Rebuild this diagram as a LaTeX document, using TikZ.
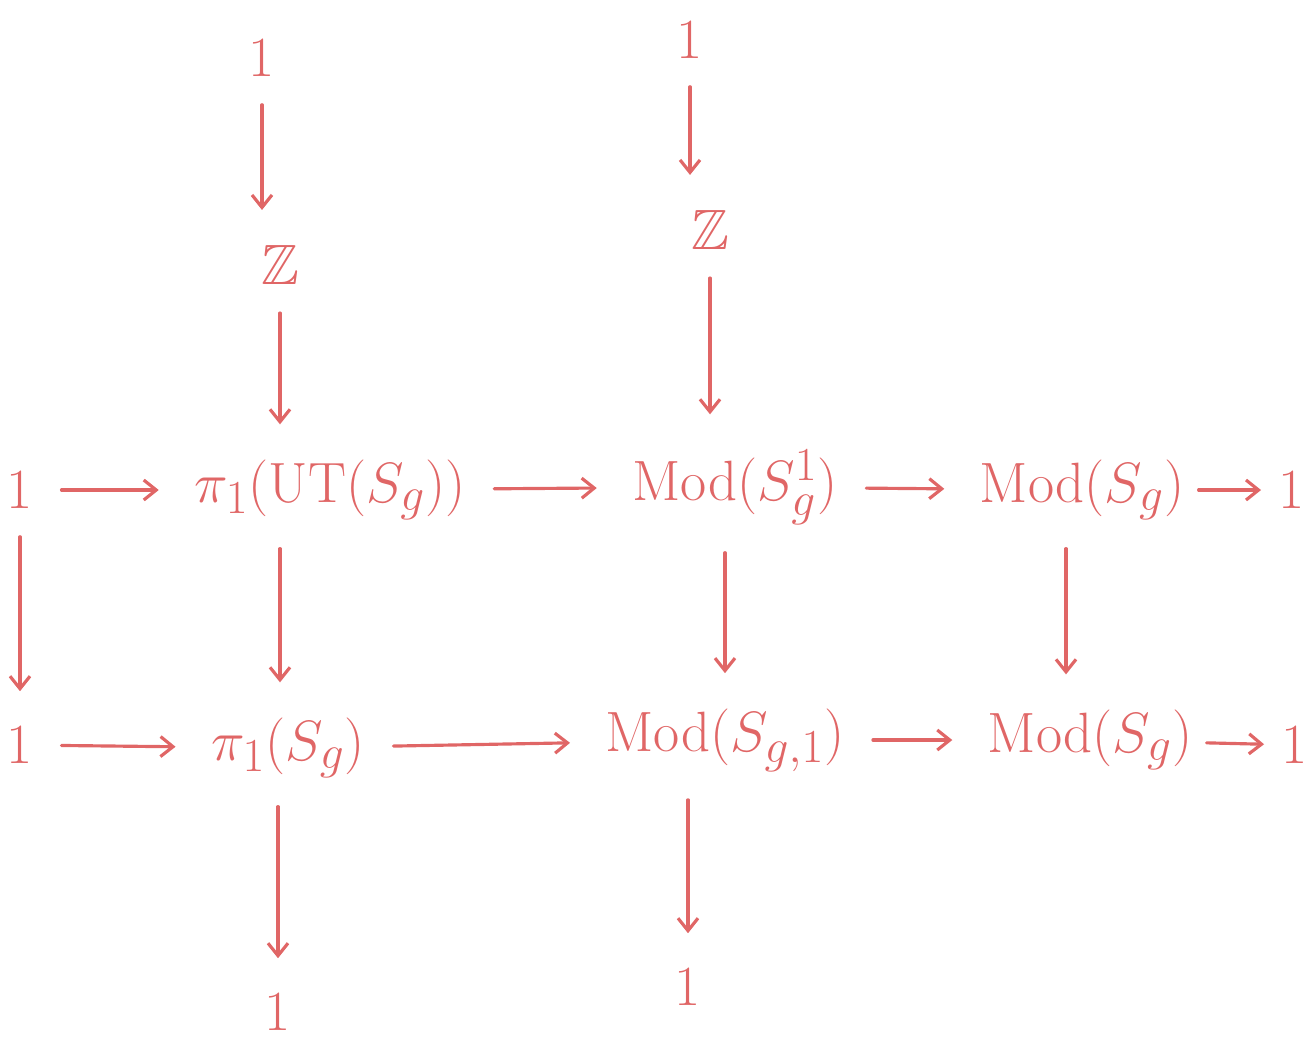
\documentclass[tikz,border=0pt]{standalone}
\usepackage{amsmath,amssymb}
\usepackage{graphicx}
\usepackage{tikz}
\usepackage{xcolor}
\usetikzlibrary{arrows.meta,positioning}
\definecolor{hand}{HTML}{E06666}
\newcommand{\hw}[1]{\scalebox{1.3}{$#1$}}

\begin{document}
\begin{tikzpicture}[
    x=0.02cm, y=-0.02cm,
    obj/.style={text=hand, inner sep=6pt, font=\Huge},
    arr/.style={draw=hand, line width=1.8pt, line cap=round, -{Straight Barb[length=2.5mm,width=4mm]}, shorten >=14pt, shorten <=10pt}
  ]
    \useasboundingbox (0,0) rectangle (1316,1046);

    % top of the two columns
    \node[obj] (topA) at (262,58) {\hw{1}};
    \node[obj] (topB) at (690,40) {\hw{1}};
    \node[obj] (zA) at (280,265) {\hw{\mathbb{Z}}};
    \node[obj] (zB) at (710,230) {\hw{\mathbb{Z}}};

    % middle row
    \node[obj] (oneA) at (20,490) {\hw{1}};
    \node[obj] (piUT) at (330,490) {\hw{\pi_1(\mathrm{UT}(S_g))}};
    \node[obj] (modPt) at (735,487) {\hw{\mathrm{Mod}(S_g^1)}};
    \node[obj] (modA) at (1082,490) {\hw{\mathrm{Mod}(S_g)}};
    \node[obj] (oneB) at (1292,490) {\hw{1}};

    % lower row
    \node[obj] (oneC) at (20,745) {\hw{1}};
    \node[obj] (piS) at (288,748) {\hw{\pi_1(S_g)}};
    \node[obj] (modBd) at (725,740) {\hw{\mathrm{Mod}(S_{g,1})}};
    \node[obj] (modB) at (1090,740) {\hw{\mathrm{Mod}(S_g)}};
    \node[obj] (oneD) at (1295,745) {\hw{1}};

    % bottom
    \node[obj] (botA) at (278,1012) {\hw{1}};
    \node[obj] (botB) at (688,987) {\hw{1}};

    \draw[arr] (topA) -- (topA |- zA.north);
    \draw[arr] (topB) -- (topB |- zB.north);
    \draw[arr] (zA) -- (zA |- piUT.north);
    \draw[arr] (zB) -- (zB |- modPt.north);

    \draw[arr] (oneA) -- (piUT);
    \draw[arr] (piUT) -- (modPt);
    \draw[arr] (modPt) -- (modA);
    \draw[arr, shorten <=2pt, shorten >=4pt] (modA) -- (oneB);

    \draw[arr] (oneA) -- (oneC);
    \draw[arr] (piUT.south -| zA) -- (zA |- piS.north);
    \draw[arr] (modPt.south -| modBd) -- (modBd);
    \draw[arr] (modA.south -| 1066,0) -- (modB.north -| 1066,0);

    \draw[arr] (oneC) -- (piS);
    \draw[arr] (piS) -- (modBd);
    \draw[arr] (modBd) -- (modB);
    \draw[arr, shorten <=2pt, shorten >=4pt] (modB) -- (oneD);

    \draw[arr] (botA |- piS.south) -- (botA);
    \draw[arr] (modBd.south -| botB) -- (botB);
  \end{tikzpicture}
\end{document}
